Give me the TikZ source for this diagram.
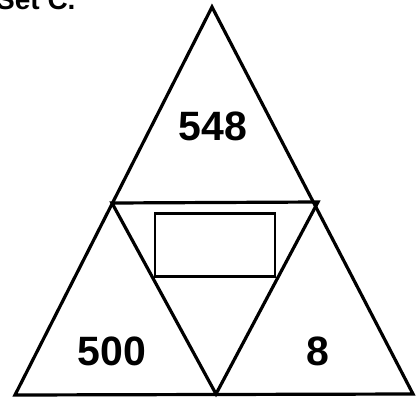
\documentclass[tikz,border=0pt]{standalone}
\usepackage{fontspec}
\setmainfont{Liberation Sans}
\usetikzlibrary{positioning}

\begin{document}
\begin{tikzpicture}[x=1pt,y=-1pt,
  edge/.style={line width=3.2pt, line join=miter},
  num/.style={font=\fontsize{41}{43}\selectfont\bfseries, inner sep=0pt}]
\useasboundingbox (0,0) rectangle (418,402);
% corners of the big triangle and the midpoints of its sides
\coordinate (apex) at (212,7);
\coordinate (bl) at (15,395);
\coordinate (br) at (413,394);
\coordinate (ml) at (112,203);
\coordinate (mr) at (318,202);
\coordinate (mb) at (216,394);
\draw[edge] (apex) -- (br) -- (bl) -- cycle;
\draw[edge] (ml) -- (mr) -- (mb) -- cycle;
\node[draw, line width=2.6pt, minimum width=120pt, minimum height=63pt, inner sep=0pt] (blank) at (215,245) {};
\node[num] (top) at (213,126) {548};
\node[num] (left) at (112,351) {500};
\node[num] (right) at (318,351) {8};
\begin{scope}
\clip (0,0) rectangle (418,402);
\node[font=\fontsize{28}{30}\selectfont\bfseries, anchor=base west, inner sep=0pt] (title) at (-4,9) {Set C.};
\end{scope}
\end{tikzpicture}
\end{document}
